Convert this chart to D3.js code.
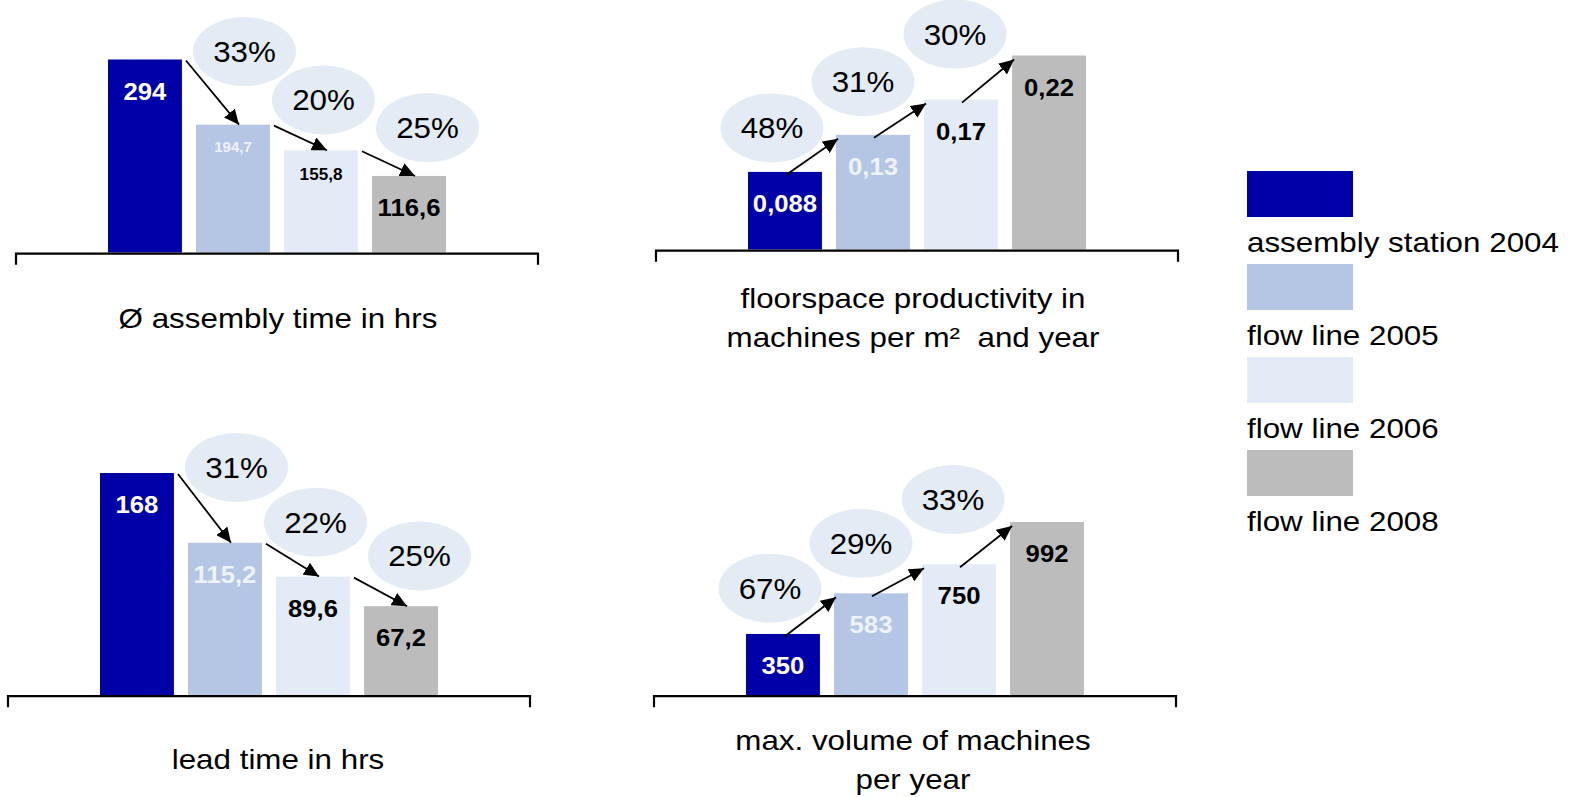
<!DOCTYPE html>
<html>
<head>
<meta charset="utf-8">
<script src="https://cdn.jsdelivr.net/npm/d3@7"></script>
<style>
  html, body { margin: 0; padding: 0; background: #fff; }
  svg { display: block; font-family: "Liberation Sans", Arial, sans-serif; }
</style>
</head>
<body>
<svg id="chart" width="1571" height="797"></svg>
<script>
// legend categories, same order as the bars
var categories = ['assembly station 2004', 'flow line 2005', 'flow line 2006', 'flow line 2008'];

// values of the four small charts
var assemblyTime = [294, 194.7, 155.8, 116.6];
var floorProductivity = [0.088, 0.13, 0.17, 0.22];
var leadTime = [168, 115.2, 89.6, 67.2];
var maxVolume = [350, 583, 750, 992];

// value labels as they are printed (decimal comma)
var assemblyLabels = ['294', '194,7', '155,8', '116,6'];
var floorLabels = ['0,088', '0,13', '0,17', '0,22'];
var leadLabels = ['168', '115,2', '89,6', '67,2'];
var volumeLabels = ['350', '583', '750', '992'];

// change between neighbouring bars
var assemblyChange = ['33%', '20%', '25%'];
var floorChange = ['48%', '31%', '30%'];
var leadChange = ['31%', '22%', '25%'];
var volumeChange = ['67%', '29%', '33%'];

var colors = ['#0000a8', '#b4c6e4', '#e3ebf6', '#bcbcbd'];
var labelColors = ['#ffffff', '#eef2fa', '#000000', '#000000'];
var bubbleColor = '#e3ebf5';

// layout of each chart (axis left end, baseline, pixel height of the max bar)
var panels = [
  { values: assemblyTime, labels: assemblyLabels, change: assemblyChange,
    title: ['Ø assembly time in hrs'], x0: 16, base: 252.5, h: 193,
    titleX: 278, titleY: 328, sizes: [24, 14, 16, 24] },
  { values: floorProductivity, labels: floorLabels, change: floorChange,
    title: ['floorspace productivity in', 'machines per m²  and year'], x0: 656, base: 249.5, h: 194,
    titleX: 913, titleY: 308, sizes: [24, 24, 24, 24] },
  { values: leadTime, labels: leadLabels, change: leadChange,
    title: ['lead time in hrs'], x0: 8, base: 695, h: 222,
    titleX: 278, titleY: 769, sizes: [24, 24, 24, 24] },
  { values: maxVolume, labels: volumeLabels, change: volumeChange,
    title: ['max. volume of machines', 'per year'], x0: 654, base: 695, h: 173,
    titleX: 913, titleY: 750, sizes: [24, 24, 24, 24] }
];

// where the % bubble sits relative to the middle of its arrow
var fallShift = [[32, -41], [23, -38], [39, -36]];
var riseShift = [[-40, -29], [-37, -39], [-33, -47]];

var axisWidth = 522;
var svg = d3.select('#chart');

svg.append('defs').append('marker')
    .attr('id', 'arrow')
    .attr('markerUnits', 'userSpaceOnUse')
    .attr('markerWidth', 16)
    .attr('markerHeight', 14)
    .attr('refX', 15)
    .attr('refY', 7)
    .attr('orient', 'auto')
  .append('path')
    .attr('d', 'M0,0 L15,7 L0,14 Z')
    .attr('fill', '#000');

// text slightly wider than the stock font, like the original slide
function placeText(sel, x, y, sx) {
  sel.attr('x', 0).attr('y', 0)
     .attr('transform', 'translate(' + x + ',' + y + ') scale(' + sx + ',1)');
  return sel;
}

panels.forEach(function (p) {
  var g = svg.append('g');

  var x = d3.scaleBand()
      .domain(categories)
      .range([p.x0 + 92, p.x0 + 430])
      .paddingInner(0.16)
      .paddingOuter(0);
  var bw = x.bandwidth();

  var y = d3.scaleLinear()
      .domain([0, d3.max(p.values)])
      .range([p.base, p.base - p.h]);

  var data = p.values.map(function (v, i) {
    return { cat: categories[i], v: v, label: p.labels[i], i: i };
  });
  var rising = p.values[3] > p.values[0];

  var links = d3.range(3).map(function (i) {
    var a = data[i], b = data[i + 1], s, e;
    if (rising) {
      s = [x(a.cat) + bw / 2 + 1, y(a.v) + 3];
      e = [x(b.cat) + 2, y(b.v) + 4];
    } else {
      s = [x(a.cat) + bw + 4, y(a.v) + 1];
      e = [x(b.cat) + bw / 2 + 6, y(b.v)];
    }
    var off = rising ? riseShift[i] : fallShift[i];
    return { s: s, e: e, text: p.change[i],
             cx: (s[0] + e[0]) / 2 + off[0], cy: (s[1] + e[1]) / 2 + off[1] };
  });

  // bubbles
  g.selectAll('.bubble').data(links).enter()
    .append('ellipse')
      .attr('class', 'bubble')
      .attr('cx', function (d) { return d.cx; })
      .attr('cy', function (d) { return d.cy; })
      .attr('rx', 51.5)
      .attr('ry', 34.5)
      .attr('fill', bubbleColor);

  g.selectAll('.pct').data(links).enter()
    .append('text')
      .attr('class', 'pct')
      .attr('text-anchor', 'middle')
      .style('font-size', '29px')
      .attr('fill', '#000')
      .text(function (d) { return d.text; })
      .each(function (d) { placeText(d3.select(this), d.cx, d.cy + 10.5, 1.08); });

  // bars
  g.selectAll('.bar').data(data).enter()
    .append('rect')
      .attr('class', 'bar')
      .attr('x', function (d) { return x(d.cat); })
      .attr('y', function (d) { return y(d.v); })
      .attr('width', bw)
      .attr('height', function (d) { return p.base - y(d.v); })
      .attr('fill', function (d) { return colors[d.i]; });

  g.selectAll('.val').data(data).enter()
    .append('text')
      .attr('class', 'val')
      .attr('text-anchor', 'middle')
      .attr('font-weight', 'bold')
      .style('font-size', function (d) { return p.sizes[d.i] + 'px'; })
      .attr('fill', function (d) { return labelColors[d.i]; })
      .text(function (d) { return d.label; })
      .each(function (d) {
        placeText(d3.select(this), x(d.cat) + bw / 2, y(d.v) + 10 + 1.25 * p.sizes[d.i], 1.07);
      });

  // arrows
  g.selectAll('.link').data(links).enter()
    .append('line')
      .attr('class', 'link')
      .attr('x1', function (d) { return d.s[0]; })
      .attr('y1', function (d) { return d.s[1]; })
      .attr('x2', function (d) { return d.e[0]; })
      .attr('y2', function (d) { return d.e[1]; })
      .attr('stroke', '#000')
      .attr('stroke-width', 1.8)
      .attr('marker-end', 'url(#arrow)');

  // baseline with end ticks
  var ax = p.base + 1.2;
  g.append('path')
    .attr('d', 'M' + p.x0 + ',' + (ax + 11) + 'V' + ax + 'H' + (p.x0 + axisWidth) + 'V' + (ax + 11))
    .attr('fill', 'none')
    .attr('stroke', '#000')
    .attr('stroke-width', 2.2);

  // title
  p.title.forEach(function (line, k) {
    g.append('text')
      .attr('text-anchor', 'middle')
      .style('font-size', '28px')
      .style('white-space', 'pre')
      .attr('fill', '#000')
      .text(line)
      .call(placeText, p.titleX, p.titleY + k * 39, 1.12);
  });
});

// legend
var ly = d3.scalePoint().domain(categories).range([171, 450]);
var legend = svg.append('g');
legend.selectAll('rect').data(categories).enter()
  .append('rect')
    .attr('x', 1247)
    .attr('y', function (d) { return ly(d); })
    .attr('width', 106)
    .attr('height', 46)
    .attr('fill', function (d, i) { return colors[i]; });

legend.selectAll('text').data(categories).enter()
  .append('text')
    .style('font-size', '28px')
    .attr('fill', '#000')
    .text(function (d) { return d; })
    .each(function (d) { placeText(d3.select(this), 1247, ly(d) + 81, 1.12); });
</script>
</body>
</html>
